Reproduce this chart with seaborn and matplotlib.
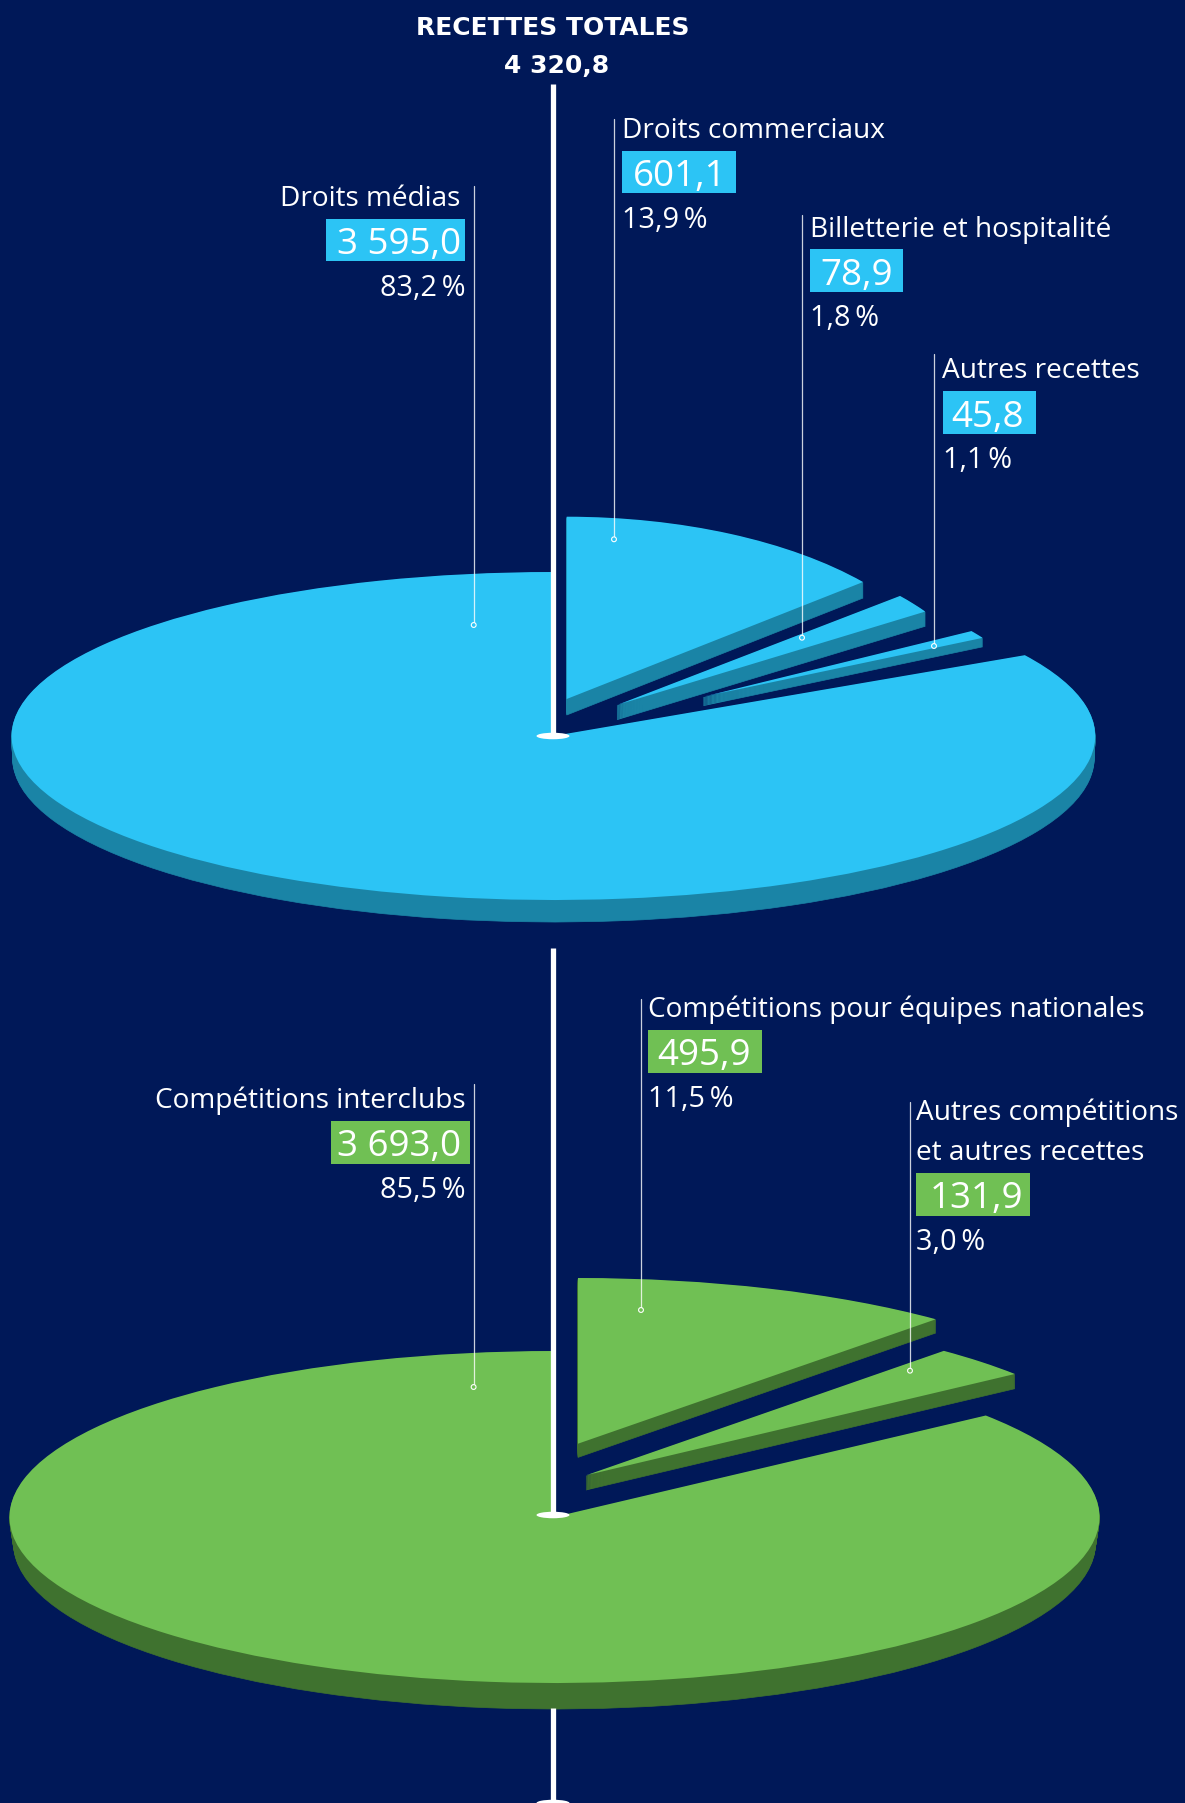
"""
Recettes totales : two exploded pseudo-3D pies, by source and by competition.
Canvas coordinates below are pixels of the 1185x1803 picture.
"""

import matplotlib
matplotlib.use("Agg")
import matplotlib.pyplot as plt
from matplotlib.patches import Ellipse, Rectangle
from matplotlib.transforms import Affine2D
import pandas as pd
import seaborn as sns

# ---------------------------------------------------------
# Data
# ---------------------------------------------------------
TOTAL_TITLE = "RECETTES TOTALES"
TOTAL_VALUE = 4320.8

source_labels = [["Droits médias"], ["Droits commerciaux"],
                 ["Billetterie et hospitalité"], ["Autres recettes"]]
source_values = [3595.0, 601.1, 78.9, 45.8]
source_shares = [83.2, 13.9, 1.8, 1.1]

competition_labels = [["Compétitions interclubs"], ["Compétitions pour équipes nationales"],
                      ["Autres compétitions", "et autres recettes"]]
competition_values = [3693.0, 495.9, 131.9]
competition_shares = [85.5, 11.5, 3.0]

# ---------------------------------------------------------
# Style and layout
# ---------------------------------------------------------
BG = "#001858"
BLUE, BLUE_DARK = "#2CC4F5", "#1A84A6"
GREEN, GREEN_DARK = "#70C054", "#3F722F"
POLE_X = 553
LABEL_SIZE = 20.2
PCT_SIZE = 20.8
VALUE_SIZE = 26.5

# cx, cy, rx, ry, depth, rim inset of each slice (first one is the main disc)
source_geom = [(553.4, 736, 541.8, 164, 22, 1), (566.7, 699, 386.4, 182.3, 16, 0),
               (617, 705, 369, 170, 14.7, 0), (703.3, 696.7, 321, 119.4, 9, 0)]
competition_geom = [(554.5, 1517, 545, 166, 26, 4), (578, 1443.7, 542, 165.7, 13.7, 0),
                    (586, 1475.3, 542, 165.7, 14.7, 0)]

# leader x, leader top, dot y, text side, text x, first baseline, box x0, box x1, value x
source_notes = [(473.7, 186, 625, "right", 460, 205.7, 326.3, 465, 461),
                (614, 119, 539.3, "left", 622.5, 138, 622, 735.6, 632.7),
                (802, 215, 637.7, "left", 810.5, 236.5, 810, 903, 820.7),
                (934, 354, 646, "left", 942.5, 378.5, 942.5, 1035.6, 951)]
competition_notes = [(473.6, 1084, 1387, "right", 466, 1108, 331, 470, 461),
                     (641, 999, 1310, "left", 648.5, 1017, 648, 762, 657.5),
                     (910, 1101.7, 1370.7, "left", 916, 1120, 916, 1030, 930)]

sns.set_theme(style="white")
plt.rcParams["font.family"] = ["Open Sans", "DejaVu Sans"]

fig = plt.figure(figsize=(11.85, 18.03), dpi=100, facecolor=BG)
ax = fig.add_axes([0, 0, 1, 1])


def fr_number(value):
    return f"{value:,.1f}".replace(",", " ").replace(".", ",")


def draw_wedge(value, start, cx, cy, rx, ry, color, edge=0):
    wedges, _ = ax.pie([value, TOTAL_VALUE - value], startangle=90 - start, counterclock=False,
                       colors=[color, "none"], wedgeprops={"linewidth": edge, "edgecolor": color})
    wedges[1].remove()
    wedges[0].set_transform(Affine2D().scale(rx, -ry).translate(cx, cy) + ax.transData)


def draw_pie(values, geoms, color, dark):
    # main disc starts after the detached slices, those follow clockwise from 12 o'clock
    detached = sum(values[1:])
    starts = [detached * 360 / TOTAL_VALUE]
    running = 0
    for v in values[1:]:
        starts.append(running * 360 / TOTAL_VALUE)
        running += v
    for value, start, geom in zip(values, starts, geoms):
        cx, cy, rx, ry, depth, inset = geom
        steps = int(round(depth))
        for i in range(steps, 0, -1):
            f = i / steps
            draw_wedge(value, start, cx, cy + depth * f, rx - inset * f, ry, dark, edge=0.5)
        draw_wedge(value, start, cx, cy, rx, ry, color)


def draw_notes(labels, values, shares, notes, color):
    for lab, val, share, note in zip(labels, values, shares, notes):
        lx, ltop, ldot, side, tx, base, bx0, bx1, vx = note
        ax.plot([lx, lx], [ltop, ldot], color="white", lw=0.9, alpha=0.8, zorder=4)
        for i, line in enumerate(lab):
            ax.text(tx, base + i * 40, line, color="white", fontsize=LABEL_SIZE, ha=side, va="baseline", zorder=6)
        base = base + (len(lab) - 1) * 40
        ax.add_patch(Rectangle((bx0, base + 12.8), bx1 - bx0, 42.7, facecolor=color, edgecolor="none", zorder=5))
        ax.text(vx, base + 48, fr_number(val), color="white", fontsize=VALUE_SIZE, ha=side, va="baseline", zorder=6)
        pct_x = vx + 4.5 if side == "right" else bx0 + 0.5
        ax.text(pct_x, base + 90, f"{share:.1f}\u2009%".replace(".", ","), color="white",
                fontsize=PCT_SIZE, ha=side, va="baseline", zorder=6)


# ---------------------------------------------------------
# Draw
# ---------------------------------------------------------
draw_pie(source_values, source_geom, BLUE, BLUE_DARK)
draw_pie(competition_values, competition_geom, GREEN, GREEN_DARK)

# poles and their foot ellipses
for y0, y1 in [(84, 736), (948, 1515), (1708, 1803)]:
    ax.plot([POLE_X, POLE_X], [y0, y1], color="white", lw=3.8, solid_capstyle="butt", zorder=3)
for foot_y in [736, 1515, 1803]:
    ax.add_patch(Ellipse((POLE_X, foot_y), 33, 6.5, facecolor="white", edgecolor="none", zorder=3))

draw_notes(source_labels, source_values, source_shares, source_notes, BLUE)
draw_notes(competition_labels, competition_values, competition_shares, competition_notes, GREEN)

# small ring at the foot of each leader line
dots = pd.DataFrame({
    "x": [n[0] for n in source_notes + competition_notes],
    "y": [n[2] for n in source_notes + competition_notes],
    "pie": ["source"] * len(source_notes) + ["competition"] * len(competition_notes),
})
sns.scatterplot(data=dots, x="x", y="y", hue="pie", palette={"source": BLUE, "competition": GREEN},
                s=12, edgecolor="white", linewidth=0.8, legend=False, zorder=5, ax=ax)

ax.text(POLE_X, 35, TOTAL_TITLE, color="white", fontsize=18, fontweight="bold", family="DejaVu Sans",
        ha="center", va="baseline")
ax.text(557, 73, fr_number(TOTAL_VALUE), color="white", fontsize=18, fontweight="bold", family="DejaVu Sans",
        ha="center", va="baseline")

ax.set_aspect("auto")
ax.set_xlim(0, 1185)
ax.set_ylim(1803, 0)
ax.axis("off")

fig.savefig("out.png", dpi=100, facecolor=BG)
